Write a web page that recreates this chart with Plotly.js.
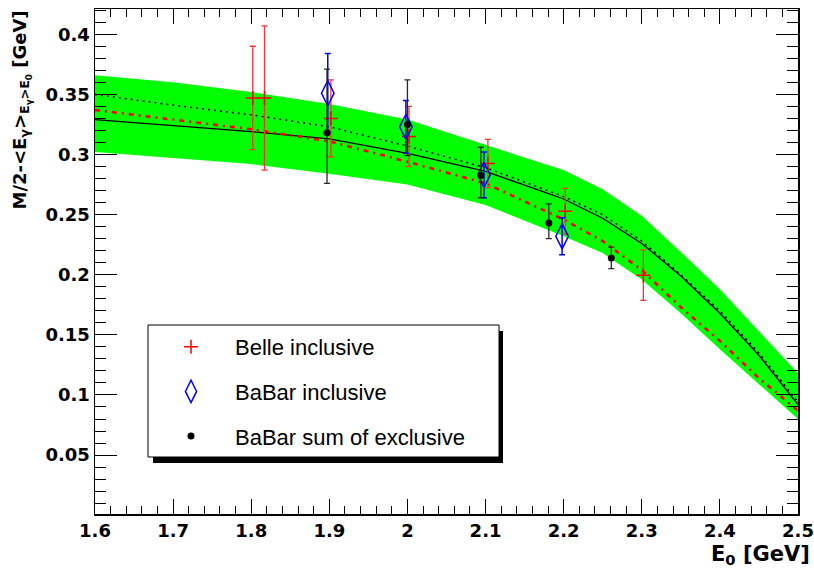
<!DOCTYPE html>
<html>
<head>
<meta charset="utf-8">
<script src="https://cdn.plot.ly/plotly-3.0.1.min.js"></script>
<style>html,body{margin:0;padding:0;background:#fff;}#chart{width:814px;height:569px;}</style>
</head>
<body>
<div id="chart"></div>
<script>
// Theory curves (grid in E0)
const gridE      = [1.6, 1.7, 1.8, 1.9, 2.0, 2.1, 2.2, 2.25, 2.3, 2.35, 2.4, 2.45, 2.5];
const bandUpper  = [0.366, 0.360, 0.352, 0.342, 0.329, 0.308, 0.287, 0.271, 0.249, 0.219, 0.188, 0.153, 0.118];
const bandLower  = [0.302, 0.297, 0.292, 0.284, 0.275, 0.258, 0.232, 0.218, 0.196, 0.168, 0.138, 0.109, 0.080];
const solidCurve = [0.329, 0.324, 0.319, 0.313, 0.301, 0.286, 0.263, 0.247, 0.226, 0.199, 0.168, 0.133, 0.092];
const dotCurve   = [0.350, 0.341, 0.333, 0.323, 0.307, 0.289, 0.265, 0.250, 0.228, 0.200, 0.170, 0.135, 0.094];
const redCurve   = [0.337, 0.329, 0.321, 0.311, 0.294, 0.276, 0.246, 0.228, 0.204, 0.173, 0.145, 0.114, 0.087];

// Belle inclusive
const belleE   = [1.802, 1.817, 1.902, 2.002, 2.103, 2.202, 2.302];
const belleV   = [0.347, 0.347, 0.330, 0.315, 0.2925, 0.2528, 0.1996];
const belleErr = [0.043, 0.060, 0.032, 0.025, 0.020, 0.019, 0.021];

// BaBar inclusive
const babarIncE   = [1.898, 1.998, 2.098, 2.198];
const babarIncV   = [0.351, 0.323, 0.283, 0.232];
const babarIncErr = [0.033, 0.022, 0.019, 0.0153];

// BaBar sum of exclusive
const babarExcE      = [1.897, 2.000, 2.094, 2.181, 2.261];
const babarExcV      = [0.318, 0.325, 0.2825, 0.243, 0.214];
const babarExcErrUp  = [0.053, 0.037, 0.0235, 0.016, 0.009];
const babarExcErrDn  = [0.042, 0.026, 0.0185, 0.013, 0.009];

const traces = [
  {x: gridE, y: bandLower, mode: 'lines', line: {width: 0, color: 'rgb(0,255,0)'}, showlegend: false, hoverinfo: 'skip'},
  {x: gridE, y: bandUpper, mode: 'lines', line: {width: 0, color: 'rgb(0,255,0)'}, fill: 'tonexty', fillcolor: 'rgb(0,255,0)', showlegend: false, hoverinfo: 'skip'},
  {x: gridE, y: solidCurve, mode: 'lines', line: {color: 'black', width: 1.3}, showlegend: false},
  {x: gridE, y: dotCurve, mode: 'lines', line: {color: 'black', width: 1.5, dash: '2px,4px'}, showlegend: false},
  {x: gridE, y: redCurve, mode: 'lines', line: {color: 'rgb(255,0,0)', width: 2.6, dash: '5px,5px,2px,5px'}, showlegend: false},
  {x: belleE, y: belleV, mode: 'markers', name: 'Belle inclusive', legendgroup: 'a',
   marker: {symbol: 'cross-thin-open', size: 10, color: 'red', line: {color: 'red', width: 1.5}},
   error_y: {type: 'data', array: belleErr, color: 'rgb(255,50,50)', thickness: 1.3, width: 3}},
  {x: babarIncE, y: babarIncV, mode: 'markers', name: 'BaBar inclusive', legendgroup: 'b',
   marker: {symbol: 'diamond-tall-open', size: 18, color: 'blue', line: {color: 'blue', width: 1.5}},
   error_y: {type: 'data', array: babarIncErr, color: 'blue', thickness: 1.5, width: 3}},
  {x: babarExcE, y: babarExcV, mode: 'markers', name: 'BaBar sum of exclusive', legendgroup: 'c',
   marker: {symbol: 'circle', size: 7, color: 'black'},
   error_y: {type: 'data', symmetric: false, array: babarExcErrUp, arrayminus: babarExcErrDn, color: 'rgb(40,40,40)', thickness: 1.3, width: 3}}
];

const tickFont = {family: 'DejaVu Sans', size: 18, color: 'black', weight: 700};
const px = v => (v - 95) / 703;      // pixel x -> paper
const py = v => (514 - v) / 505;     // pixel y -> paper

const layout = {
  width: 814, height: 569,
  margin: {l: 95, r: 16, t: 9, b: 55},
  paper_bgcolor: 'white', plot_bgcolor: 'white',
  showlegend: true,
  xaxis: {
    range: [1.6, 2.5], dtick: 0.1, tick0: 1.6,
    showgrid: false, zeroline: false,
    showline: true, linecolor: 'black', linewidth: 1.5, mirror: 'allticks',
    ticks: 'inside', ticklen: 15, tickwidth: 1, tickcolor: 'black',
    minor: {dtick: 0.02, ticks: 'inside', ticklen: 8, tickwidth: 1, tickcolor: 'black', showgrid: false},
    tickfont: tickFont, tickprefix: '<b>', ticksuffix: '</b>'
  },
  yaxis: {
    range: [0.001, 0.421], dtick: 0.05, tick0: 0,
    showgrid: false, zeroline: false,
    showline: true, linecolor: 'black', linewidth: 1.5, mirror: 'allticks',
    ticks: 'inside', ticklen: 22, tickwidth: 1, tickcolor: 'black',
    minor: {dtick: 0.01, ticks: 'inside', ticklen: 11, tickwidth: 1, tickcolor: 'black', showgrid: false},
    tickfont: tickFont, tickprefix: '<b>', ticksuffix: '</b>'
  },
  legend: {
    x: px(147), y: py(326), xanchor: 'left', yanchor: 'top',
    bgcolor: 'rgba(0,0,0,0)', borderwidth: 0,
    font: {family: 'Liberation Sans, Arial, sans-serif', size: 22, color: 'black'},
    itemwidth: 78, traceorder: 'grouped', tracegroupgap: 13
  },
  shapes: [
    {type: 'rect', xref: 'paper', yref: 'paper', layer: 'above',
     x0: px(153), x1: px(503), y0: py(463), y1: py(331),
     fillcolor: 'black', line: {width: 0}},
    {type: 'rect', xref: 'paper', yref: 'paper', layer: 'above',
     x0: px(148), x1: px(499), y0: py(457), y1: py(325),
     fillcolor: 'white', line: {color: 'black', width: 1}}
  ],
  annotations: [
    {xref: 'paper', yref: 'paper', x: px(812), y: py(555), xanchor: 'right', yanchor: 'middle', showarrow: false,
     text: '<b>E<sub>0</sub> [GeV]</b>', font: {family: 'DejaVu Sans', size: 21, color: 'black', weight: 700}},
    {xref: 'paper', yref: 'paper', x: px(21), y: py(9), xanchor: 'center', yanchor: 'top', showarrow: false,
     textangle: -90,
     text: '<b>M/2-&lt;E<sub>γ</sub>&gt;<sub>E<sub>γ</sub>&gt;E<sub>0</sub></sub> [GeV]</b>',
     font: {family: 'DejaVu Sans', size: 18, color: 'black', weight: 700}}
  ]
};

Plotly.newPlot('chart', traces, layout, {displayModeBar: false, staticPlot: true});
</script>
</body>
</html>
